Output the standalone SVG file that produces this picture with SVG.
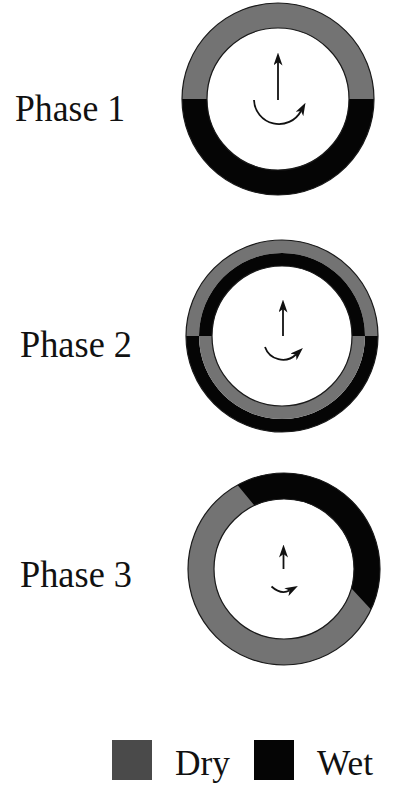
<svg xmlns="http://www.w3.org/2000/svg" width="405" height="807" viewBox="0 0 405 807">
<style>
.lbl{font-family:"Liberation Serif","DejaVu Serif",serif;font-size:37px;fill:#111}
.leg{font-family:"Liberation Serif","DejaVu Serif",serif;font-size:35px;fill:#111}
.dry{fill:#737373}
.wet{fill:#050505}
.edge{fill:none;stroke:#1a1a1a;stroke-width:1.2}
.arr{fill:none;stroke:#111;stroke-width:1.8;marker-end:url(#head)}
</style>
<defs>
<marker id="head" markerUnits="userSpaceOnUse" markerWidth="13" markerHeight="9" viewBox="0 0 13 9" refX="3.5" refY="4.5" orient="auto">
<path d="M0,0 L13,4.5 L0,9 L3.5,4.5 Z" fill="#111"/>
</marker>
</defs>
<rect width="405" height="807" fill="#ffffff"/>

<g id="phase1">
<path class="dry" d="M182,99 A96,96 0 0 1 374,99 L349,99 A71,71 0 0 0 207,99 Z"/>
<path class="wet" d="M182,99 A96,96 0 0 0 374,99 L349,99 A71,71 0 0 1 207,99 Z"/>
<circle class="edge" cx="278" cy="99" r="96"/>
<circle class="edge" cx="278" cy="99" r="71"/>
<text class="lbl" x="15" y="121" textLength="110" lengthAdjust="spacingAndGlyphs">Phase 1</text>
</g>

<g id="phase2">
<path class="dry" d="M186,336 A96,96 0 0 1 378,336 L365,336 A83,83 0 0 0 199,336 Z"/>
<path class="wet" d="M199,336 A83,83 0 0 1 365,336 L352,336 A70,70 0 0 0 212,336 Z"/>
<path class="wet" d="M186,336 A96,96 0 0 0 378,336 L365,336 A83,83 0 0 1 199,336 Z"/>
<path class="dry" d="M199,336 A83,83 0 0 0 365,336 L352,336 A70,70 0 0 1 212,336 Z"/>
<circle class="edge" cx="282" cy="336" r="96"/>
<circle class="edge" cx="282" cy="336" r="70"/>
<text class="lbl" x="20" y="357" textLength="112" lengthAdjust="spacingAndGlyphs">Phase 2</text>
</g>

<g id="phase3">
<path class="dry" fill-rule="evenodd" d="M188,569 A96,96 0 1 1 380,569 A96,96 0 1 1 188,569 Z M214,569 A70,70 0 1 0 354,569 A70,70 0 1 0 214,569 Z"/>
<path class="wet" d="M237.5,485 A96,96 0 0 1 371,609.6 L351.3,588.3 A70,70 0 0 0 254.4,505.6 Z"/>
<circle class="edge" cx="284" cy="569" r="96"/>
<circle class="edge" cx="284" cy="569" r="70"/>
<text class="lbl" x="20" y="587" textLength="112" lengthAdjust="spacingAndGlyphs">Phase 3</text>
</g>

<g id="connectors">
<line class="arr" x1="278" y1="100" x2="278" y2="62"/>
<path class="arr" d="M254,100 A25,25 0 0 0 301,111"/>
<line class="arr" x1="283" y1="336" x2="283" y2="309"/>
<path class="arr" d="M265,347 A19,19 0 0 0 296,354.5"/>
<line class="arr" x1="283.5" y1="569" x2="283.5" y2="554"/>
<path class="arr" d="M271.5,586.5 Q281,595 289.5,590.5"/>
</g>

<g id="legend">
<rect x="112" y="740" width="40" height="40" fill="#4a4a4a"/>
<text class="leg" x="175" y="775" textLength="55" lengthAdjust="spacingAndGlyphs">Dry</text>
<rect x="254" y="740" width="40" height="40" fill="#050505"/>
<text class="leg" x="317" y="775" textLength="56" lengthAdjust="spacingAndGlyphs">Wet</text>
</g>
</svg>
